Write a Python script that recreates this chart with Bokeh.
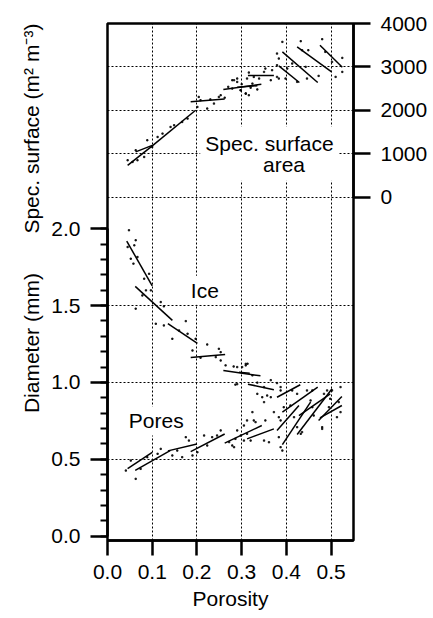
import numpy as np
from bokeh.plotting import figure
from bokeh.layouts import row
from bokeh.models import (LinearAxis, Range1d, FixedTicker, SingleIntervalTicker,
                          Grid, Label, NumeralTickFormatter)
from bokeh.embed import file_html
from bokeh.resources import INLINE

FONT = "Liberation Sans"
FS = "21px"

# ---------------- data ----------------
# Specific surface area: fitted segments (porosity, m2 m-3)
surf_x0 = [0.045, 0.098, 0.063, 0.186, 0.259, 0.290, 0.314, 0.383, 0.391, 0.424, 0.475]
surf_y0 = [730, 1160, 1040, 2195, 2480, 2530, 2800, 3022, 3345, 3461, 3500]
surf_x1 = [0.098, 0.197, 0.100, 0.262, 0.344, 0.335, 0.372, 0.429, 0.470, 0.501, 0.525]
surf_y1 = [1160, 2000, 1190, 2260, 2600, 2565, 2800, 2639, 2639, 2884, 2992]

surf_dot_x = [0.391, 0.432, 0.480, 0.379, 0.383, 0.435, 0.449, 0.487, 0.525, 0.379,
              0.413, 0.443, 0.446, 0.472, 0.510, 0.525, 0.398, 0.424, 0.316, 0.353,
              0.368, 0.383, 0.312, 0.279, 0.290, 0.298, 0.309, 0.316, 0.339, 0.324,
              0.502, 0.402, 0.063, 0.067, 0.100, 0.082, 0.123, 0.149, 0.167, 0.179,
              0.201, 0.208, 0.223, 0.238, 0.249, 0.253, 0.204, 0.283, 0.290, 0.2975,
              0.309, 0.279, 0.327, 0.350, 0.365, 0.379, 0.089, 0.112, 0.141, 0.045,
              0.056, 0.230, 0.262, 0.270, 0.300, 0.320, 0.335]
surf_dot_y = [3576, 3592, 3638, 3307, 3192, 3384, 3384, 3346, 3207, 3038,
              3077, 3000, 2731, 2792, 2769, 2884, 2731, 2654, 2869, 2961,
              2923, 2731, 2731, 2692, 2731, 2461, 2385, 2346, 2731, 2615,
              3115, 2961, 1077, 847, 1154, 923, 1462, 1654, 1730, 1808,
              2076, 2231, 2039, 2154, 2307, 2346, 2307, 2692, 2653, 2461,
              2385, 2500, 2768, 2884, 2692, 2769, 1308, 1384, 1615, 847,
              808, 2250, 2290, 2540, 2600, 2520, 2480]

# Ice grain diameter: fitted segments (porosity, mm)
ice_x0 = [0.043, 0.062, 0.135, 0.186, 0.259, 0.294, 0.314]
ice_y0 = [1.920, 1.625, 1.382, 1.163, 1.078, 1.066, 0.989]
ice_x1 = [0.100, 0.145, 0.201, 0.263, 0.342, 0.318, 0.372]
ice_y1 = [1.628, 1.404, 1.254, 1.182, 1.043, 1.060, 0.953]

ice_dot_x = [0.048, 0.045, 0.060, 0.063, 0.052, 0.058, 0.067, 0.082, 0.093, 0.086,
             0.078, 0.097, 0.063, 0.119, 0.126, 0.108, 0.126, 0.145, 0.175, 0.179,
             0.160, 0.190, 0.223, 0.197, 0.208, 0.249, 0.253, 0.242, 0.253, 0.264,
             0.290, 0.309, 0.301, 0.282, 0.290, 0.313, 0.324, 0.335, 0.286, 0.350,
             0.365, 0.357, 0.335, 0.309, 0.379, 0.387, 0.424, 0.458, 0.502, 0.521,
             0.413]
ice_dot_y = [1.990, 1.881, 1.892, 1.925, 1.805, 1.773, 1.816, 1.675, 1.707, 1.599,
             1.566, 1.599, 1.480, 1.523, 1.495, 1.382, 1.371, 1.284, 1.399, 1.317,
             1.338, 1.208, 1.247, 1.284, 1.161, 1.219, 1.197, 1.165, 1.143, 1.111,
             1.100, 1.121, 1.100, 1.104, 0.989, 1.122, 1.046, 0.999, 0.986, 0.970,
             1.015, 0.915, 0.926, 1.111, 0.996, 0.970, 0.926, 0.948, 0.948, 0.970,
             0.948]

# Pore diameter: fitted segments (porosity, mm)
pore_x0 = [0.045, 0.062, 0.135, 0.186, 0.262, 0.312, 0.379, 0.391, 0.379, 0.391,
           0.424, 0.428, 0.472, 0.475]
pore_y0 = [0.440, 0.428, 0.555, 0.550, 0.605, 0.633, 0.904, 0.807, 0.687, 0.596,
           0.661, 0.785, 0.753, 0.770]
pore_x1 = [0.100, 0.140, 0.200, 0.262, 0.345, 0.372, 0.431, 0.470, 0.428, 0.454,
           0.502, 0.498, 0.524, 0.524]
pore_y1 = [0.545, 0.556, 0.600, 0.665, 0.720, 0.698, 0.985, 0.970, 0.850, 0.872,
           0.959, 0.926, 0.909, 0.850]

pore_dot_x = [0.041, 0.063, 0.052, 0.074, 0.089, 0.112, 0.119, 0.145, 0.156, 0.175,
              0.182, 0.167, 0.190, 0.201, 0.216, 0.223, 0.234, 0.245, 0.253, 0.272,
              0.279, 0.286, 0.298, 0.305, 0.312, 0.290, 0.283, 0.305, 0.312, 0.331,
              0.320, 0.350, 0.361, 0.353, 0.346, 0.350, 0.365, 0.387, 0.394, 0.387,
              0.383, 0.387, 0.391, 0.409, 0.417, 0.424, 0.435, 0.432, 0.446, 0.454,
              0.458, 0.461, 0.484, 0.491, 0.495, 0.498, 0.480, 0.513, 0.521, 0.517,
              0.480, 0.324, 0.327, 0.372, 0.383]
pore_dot_y = [0.427, 0.373, 0.492, 0.438, 0.514, 0.536, 0.568, 0.525, 0.557, 0.644,
              0.622, 0.514, 0.525, 0.546, 0.655, 0.590, 0.644, 0.655, 0.688, 0.612,
              0.590, 0.633, 0.655, 0.622, 0.666, 0.688, 0.579, 0.720, 0.753, 0.742,
              0.622, 0.622, 0.611, 0.753, 0.904, 0.872, 0.904, 0.948, 0.839, 0.753,
              0.644, 0.579, 0.557, 0.850, 0.774, 0.709, 0.677, 0.666, 0.948, 0.883,
              0.839, 0.785, 0.926, 0.948, 0.839, 0.894, 0.709, 0.774, 0.807, 0.872,
              0.698, 0.807, 0.753, 0.807, 0.774]

x_ticks = [0.0, 0.1, 0.2, 0.3, 0.4, 0.5]
surf_ticks = [0, 1000, 2000, 3000, 4000]

# ---------------- main figure ----------------
p = figure(width=388, height=618, output_backend="svg", toolbar_location=None,
           x_range=Range1d(0, 0.55), y_range=Range1d(-0.028, 3.335),
           x_axis_location=None, y_axis_location=None,
           min_border_left=62, min_border_right=80, min_border_top=23,
           min_border_bottom=78)
p.extra_y_ranges = {"ss": Range1d(-7919, 4000)}
for g in p.grid:
    g.visible = False
p.outline_line_color = "black"
p.outline_line_width = 2.5
p.background_fill_color = "white"
p.border_fill_color = "white"


def style_axis(ax, tick_out):
    ax.axis_line_width = 2.5
    ax.axis_line_color = "black"
    ax.major_tick_line_width = 2.5
    ax.major_tick_line_color = "black"
    ax.minor_tick_line_width = 2
    ax.minor_tick_line_color = "black"
    ax.major_tick_out = tick_out
    ax.major_tick_in = 0
    ax.minor_tick_out = 7
    ax.minor_tick_in = 0
    ax.major_label_text_font = FONT
    ax.major_label_text_font_size = FS
    ax.major_label_text_color = "black"
    ax.major_label_standoff = 10
    ax.axis_label_text_font = FONT
    ax.axis_label_text_font_size = FS
    ax.axis_label_text_font_style = "normal"
    ax.axis_label_text_color = "black"
    ax.axis_label_standoff = 10


yl = LinearAxis(bounds=(0, 2.0),
                ticker=SingleIntervalTicker(interval=0.5, num_minor_ticks=5),
                formatter=NumeralTickFormatter(format="0.0"))
style_axis(yl, 17)
p.add_layout(yl, "left")

yr = LinearAxis(y_range_name="ss", bounds=(0, 4000),
                ticker=FixedTicker(ticks=surf_ticks, minor_ticks=[]))
style_axis(yr, 17)
p.add_layout(yr, "right")

xb = LinearAxis(ticker=FixedTicker(ticks=x_ticks, minor_ticks=[]),
                formatter=NumeralTickFormatter(format="0.0"),
                axis_label="Porosity")
style_axis(xb, 15)
xb.major_label_standoff = 9
xb.axis_label_standoff = 5
p.add_layout(xb, "below")

dash = dict(grid_line_color="black", grid_line_dash="2 2", grid_line_width=1)
p.add_layout(Grid(dimension=0, ticker=FixedTicker(ticks=x_ticks[1:]), **dash))
p.add_layout(Grid(dimension=1, ticker=FixedTicker(ticks=[0.5, 1.0, 1.5]), **dash))
p.add_layout(Grid(dimension=1, y_range_name="ss",
                  ticker=FixedTicker(ticks=surf_ticks[:-1]), **dash))

# marks
p.segment(surf_x0, surf_y0, surf_x1, surf_y1, y_range_name="ss",
          line_color="black", line_width=1.5)
p.scatter(surf_dot_x, surf_dot_y, y_range_name="ss", marker="square", size=1.4,
          color="black", alpha=0.8)
p.segment(ice_x0, ice_y0, ice_x1, ice_y1, line_color="black", line_width=1.5)
p.scatter(ice_dot_x, ice_dot_y, marker="square", size=1.4, color="black", alpha=0.8)
p.segment(pore_x0, pore_y0, pore_x1, pore_y1, line_color="black", line_width=1.5)
p.scatter(pore_dot_x, pore_dot_y, marker="square", size=1.4, color="black", alpha=0.8)

# annotations
lab = dict(text_font=FONT, text_font_size=FS, text_color="black",
           background_fill_color="white", text_align="center", text_baseline="middle")
p.add_layout(Label(x=0.362, y=1000, y_range_name="ss",
                   text="Spec. surface\n" + "\u00a0" * 5 + "area",
                   text_line_height=0.92, padding=5, **lab))
p.add_layout(Label(x=0.2176, y=1.60, text="Ice", padding=3, **lab))
p.add_layout(Label(x=0.109, y=0.75, text="Pores", padding=3, **lab))

# ---------------- narrow left panel holding the two y-axis titles ----------------
# its frame covers the full height; ranges extended so they line up with the main frame
t = figure(width=45, height=618, output_backend="svg", toolbar_location=None,
           x_range=Range1d(0, 1), y_range=Range1d(-0.536, 3.487),
           x_axis_location=None, y_axis_location=None,
           min_border_left=0, min_border_right=0, min_border_top=0,
           min_border_bottom=0)
t.extra_y_ranges = {"ss": Range1d(-9718, 4538)}
for g in t.grid:
    g.visible = False
t.outline_line_color = None
t.background_fill_color = "white"
t.border_fill_color = "white"
ttl = dict(text_font=FONT, text_font_size=FS, text_color="black", angle=np.pi / 2,
           text_align="center", text_baseline="middle")
t.add_layout(Label(x=0.69, y=1.0, text="Diameter (mm)", **ttl))
t.add_layout(Label(x=0.69, y=1640, y_range_name="ss",
                   text="Spec. surface (m² m⁻³)", **ttl))

layout = row(t, p, spacing=0)
open("out.html", "w").write(file_html(layout, INLINE))
